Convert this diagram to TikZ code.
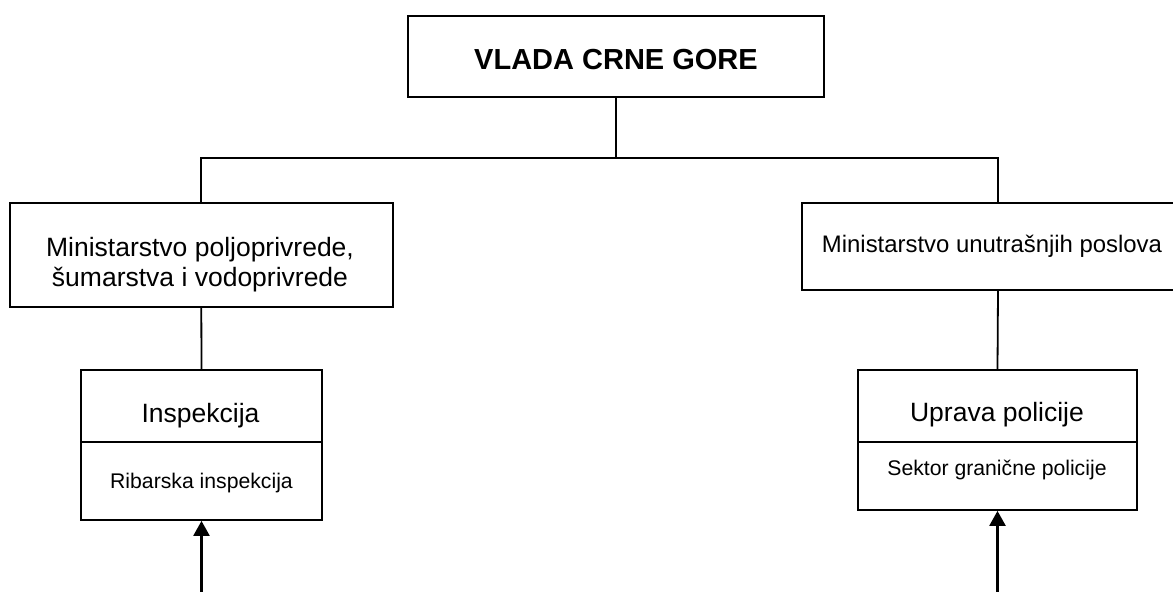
\documentclass[tikz,border=0pt]{standalone}
\usepackage{fontspec}
\setmainfont{Liberation Sans}
\usepackage{tikz}
\usetikzlibrary{arrows.meta}

\begin{document}
\begin{tikzpicture}[x=0.5pt,y=-0.5pt]
      \useasboundingbox (0,0) rectangle (1173,592);
      \tikzstyle {orgbox} = [shape=rectangle, draw=black, line width=0.9pt, inner sep=0pt];
      \tikzstyle {orgtext} = [anchor=base, inner sep=0pt];
      \tikzstyle {feed} = [-{Triangle[width=8pt,length=7.5pt]}, line width=1.2pt];
      % boxes
      \node (g) [orgbox, minimum width=208pt, minimum height=40.5pt] at (616,56.5) {};
      \node (m1) [orgbox, minimum width=191.7pt, minimum height=52pt] at (201.3,255) {};
      \node (m2) [orgbox, minimum width=196pt, minimum height=43.5pt] at (998,246.5) {};
      \node (i) [orgbox, minimum width=120.5pt, minimum height=36pt] at (201.5,406) {};
      \node (ri) [orgbox, minimum width=120.5pt, minimum height=39pt] at (201.5,481) {};
      \node (up) [orgbox, minimum width=139.5pt, minimum height=36pt] at (997.5,406) {};
      \node (sg) [orgbox, minimum width=139.5pt, minimum height=34pt] at (997.5,476) {};
      % texts
      \node (tg) [orgtext, font=\fontsize{14.5}{17}\selectfont\bfseries] at (616,70) {VLADA CRNE GORE};
      \node (tm1) [inner sep=0pt, align=center, font=\fontsize{13.25}{15}\selectfont] at (200,265) {Ministarstvo poljoprivrede,\\šumarstva i vodoprivrede};
      \node (tm2) [orgtext, font=\fontsize{11.95}{14}\selectfont] at (992,253) {Ministarstvo unutrašnjih poslova};
      \node (ti) [orgtext, font=\fontsize{13.25}{15}\selectfont] at (200.5,422.7) {Inspekcija};
      \node (tri) [orgtext, font=\fontsize{10.6}{12}\selectfont] at (201.5,489) {Ribarska inspekcija};
      \node (tup) [orgtext, font=\fontsize{13.25}{15}\selectfont] at (997,422) {Uprava policije};
      \node (tsg) [orgtext, font=\fontsize{10.6}{12}\selectfont] at (997,475.7) {Sektor granične policije};
      % connectors
      \coordinate (bus) at (616,158);
      \draw [line width=0.9pt] (g.south) -- (bus);
      \draw [line width=0.9pt] (m1.north) |- (bus) -| (m2.north);
      \draw [line width=0.9pt] (m1.south) -- (i.north);
      \draw [line width=0.9pt] (m2.south) -- (up.north);
      \coordinate (in1) at (201.5,592);
      \coordinate (in2) at (997.5,592);
      \draw [feed] (in1) -- (ri.south);
      \draw [feed] (in2) -- (sg.south);
\end{tikzpicture}
\end{document}
